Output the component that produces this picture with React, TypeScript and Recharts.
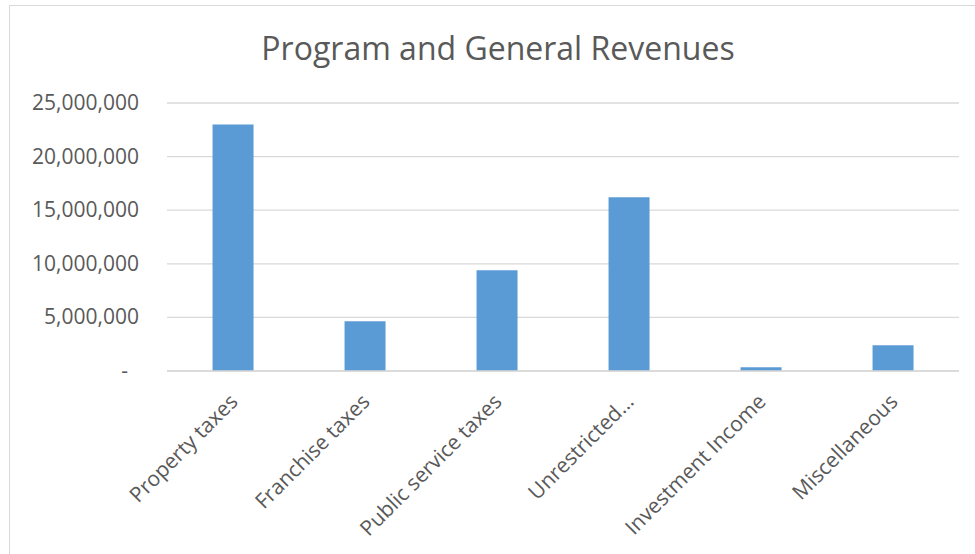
import { BarChart, Bar, XAxis, YAxis, CartesianGrid } from 'recharts';

const categories = [
  'Property taxes',
  'Franchise taxes',
  'Public service taxes',
  'Unrestricted…',
  'Investment Income',
  'Miscellaneous',
];
const revenues = [23000000, 4650000, 9400000, 16200000, 350000, 2400000];
const yTicks = [0, 5000000, 10000000, 15000000, 20000000, 25000000];

const data = categories.map((name, i) => ({ name, value: revenues[i] }));

const TEXT = '#595959';
const FONT = '"Open Sans", sans-serif';

function ValueTick({ x, y, payload }: any) {
  const v = payload.value as number;
  const label = v === 0 ? '-' : v.toLocaleString('en-US');
  return (
    <text
      x={v === 0 ? x - 11 : x}
      y={y + 7}
      textAnchor="end"
      fill={TEXT}
      fontSize={21}
      fontFamily={FONT}
    >
      {label}
    </text>
  );
}

function CategoryTick({ x, y, payload }: any) {
  return (
    <g transform={`translate(${x + 6},${y + 32})`}>
      <text
        x={0}
        y={0}
        textAnchor="end"
        transform="rotate(-45)"
        fill={TEXT}
        fontSize={21}
        fontFamily={FONT}
      >
        {payload.value}
      </text>
    </g>
  );
}

export default function App() {
  return (
    <div
      style={{
        position: 'absolute',
        left: 0,
        top: 0,
        width: 975,
        height: 554,
        background: '#fff',
        overflow: 'hidden',
      }}
    >
      {/* chart area border, runs off the right and bottom edges */}
      <div
        style={{
          position: 'absolute',
          left: 9,
          top: 5,
          width: 1000,
          height: 1000,
          border: '1px solid #d9d9d9',
        }}
      />
      <div
        style={{
          position: 'absolute',
          left: 9,
          top: 28,
          width: 978,
          textAlign: 'center',
          fontFamily: FONT,
          fontSize: 32,
          lineHeight: '40px',
          color: TEXT,
        }}
      >
        Program and General Revenues
      </div>
      <div style={{ position: 'absolute', left: 0, top: 0 }}>
        <BarChart
          width={975}
          height={554}
          data={data}
          margin={{ top: 103, right: 16, left: 0, bottom: 0 }}
          barCategoryGap="34.5%"
        >
          <CartesianGrid vertical={false} stroke="#d9d9d9" strokeWidth={1.3} />
          <XAxis
            dataKey="name"
            height={183}
            axisLine={{ stroke: '#d9d9d9', strokeWidth: 1.3 }}
            tickLine={false}
            tickSize={0}
            tickMargin={0}
            interval={0}
            tick={<CategoryTick />}
          />
          <YAxis
            width={167}
            domain={[0, 25000000]}
            ticks={yTicks}
            axisLine={false}
            tickLine={false}
            tickSize={0}
            tickMargin={28}
            tick={<ValueTick />}
          />
          <Bar dataKey="value" fill="#5b9bd5" isAnimationActive={false} />
        </BarChart>
      </div>
    </div>
  );
}
